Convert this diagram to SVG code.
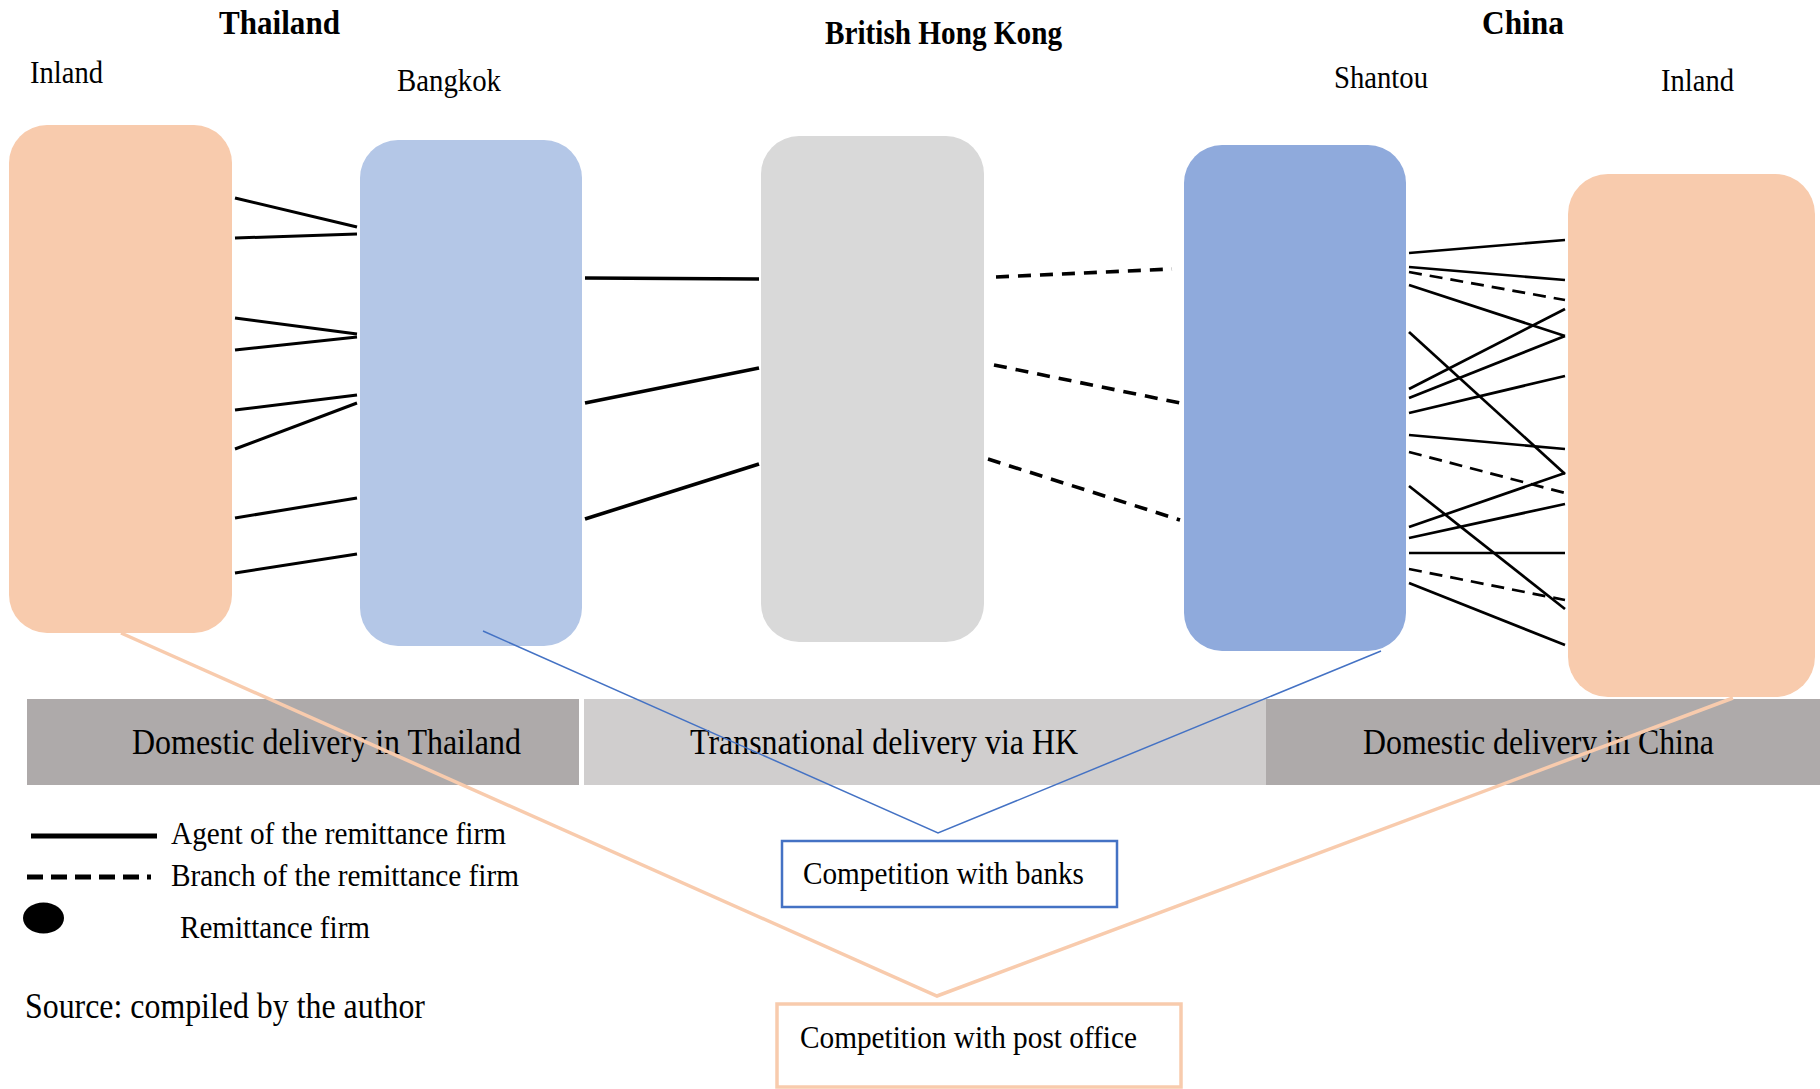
<svg xmlns="http://www.w3.org/2000/svg" width="1820" height="1089" viewBox="0 0 1820 1089">
  <style>
    .t { font-family: "Liberation Serif", "Times New Roman", serif; fill: #000; }
    .h { font-weight: bold; font-size: 34px; }
    .lbl { font-size: 32px; }
    .band-t { font-size: 35px; }
    .leg { font-size: 32px; }
    .note { font-size: 32.5px; }
    .agent { stroke: #000; stroke-width: 3; fill: none; }
    .agent-hk { stroke: #000; stroke-width: 3.6; fill: none; }
    .agent-cn { stroke: #000; stroke-width: 2.7; fill: none; }
    .branch-hk { stroke: #000; stroke-width: 3.6; stroke-dasharray: 13 9; fill: none; }
    .branch-cn { stroke: #000; stroke-width: 2.7; stroke-dasharray: 13 8; fill: none; }
    .call-bank { stroke: #4472C4; stroke-width: 1.5; fill: none; }
    .call-post { stroke: #F8CBAD; stroke-width: 3.5; fill: none; }
  </style>

  <rect width="1820" height="1089" fill="#ffffff"/>

  <!-- region headings and place labels -->
  <g id="headings">
    <text class="t h" x="219" y="34" textLength="121" lengthAdjust="spacingAndGlyphs">Thailand</text>
    <text class="t h" x="825" y="44" font-size="32" textLength="237" lengthAdjust="spacingAndGlyphs">British Hong Kong</text>
    <text class="t h" x="1482" y="34" textLength="82" lengthAdjust="spacingAndGlyphs">China</text>
    <text class="t lbl" x="30" y="83" textLength="73" lengthAdjust="spacingAndGlyphs">Inland</text>
    <text class="t lbl" x="397" y="91" textLength="104" lengthAdjust="spacingAndGlyphs">Bangkok</text>
    <text class="t lbl" x="1334" y="88" textLength="94" lengthAdjust="spacingAndGlyphs">Shantou</text>
    <text class="t lbl" x="1661" y="91" textLength="73" lengthAdjust="spacingAndGlyphs">Inland</text>
  </g>

  <!-- nodes -->
  <g id="thailand-inland">
    <rect x="9" y="125" width="223" height="508" rx="38" ry="38" fill="#F8CBAD"/>
  </g>
  <g id="bangkok">
    <rect x="360" y="140" width="222" height="506" rx="38" ry="38" fill="#B4C7E7"/>
  </g>
  <g id="hong-kong">
    <rect x="761" y="136" width="223" height="506" rx="38" ry="38" fill="#D9D9D9"/>
  </g>
  <g id="shantou">
    <rect x="1184" y="145" width="222" height="506" rx="38" ry="38" fill="#8FAADC"/>
  </g>
  <g id="china-inland">
    <rect x="1568" y="174" width="247" height="523" rx="40" ry="40" fill="#F8CBAD"/>
  </g>

  <!-- remittance links -->
  <g id="connectors">
    <!-- Thai inland to Bangkok: agents -->
    <line class="agent" x1="235" y1="198" x2="357" y2="227"/>
    <line class="agent" x1="235" y1="238" x2="357" y2="234"/>
    <line class="agent" x1="235" y1="318" x2="357" y2="334"/>
    <line class="agent" x1="235" y1="350" x2="357" y2="337"/>
    <line class="agent" x1="235" y1="410" x2="357" y2="395"/>
    <line class="agent" x1="235" y1="449" x2="357" y2="403"/>
    <line class="agent" x1="235" y1="518" x2="357" y2="498"/>
    <line class="agent" x1="235" y1="573" x2="357" y2="554"/>

    <!-- Bangkok to Hong Kong: agents -->
    <line class="agent-hk" x1="585" y1="278" x2="759" y2="279"/>
    <line class="agent-hk" x1="585" y1="403" x2="759" y2="368"/>
    <line class="agent-hk" x1="585" y1="519" x2="759" y2="464"/>

    <!-- Hong Kong to Shantou: branches -->
    <line class="branch-hk" x1="996" y1="277" x2="1172" y2="269"/>
    <line class="branch-hk" x1="994" y1="365" x2="1180" y2="403"/>
    <line class="branch-hk" x1="988" y1="459" x2="1180" y2="520"/>

    <!-- Shantou to Chinese inland -->
    <line class="agent-cn" x1="1409" y1="253" x2="1565" y2="240"/>
    <line class="agent-cn" x1="1409" y1="267" x2="1565" y2="280"/>
    <line class="branch-cn" x1="1409" y1="272" x2="1565" y2="300"/>
    <line class="agent-cn" x1="1409" y1="285" x2="1565" y2="336"/>
    <line class="agent-cn" x1="1409" y1="332" x2="1565" y2="474"/>
    <line class="agent-cn" x1="1409" y1="389" x2="1565" y2="309"/>
    <line class="agent-cn" x1="1409" y1="398" x2="1565" y2="336"/>
    <line class="agent-cn" x1="1409" y1="413" x2="1565" y2="376"/>
    <line class="agent-cn" x1="1409" y1="435" x2="1565" y2="449"/>
    <line class="branch-cn" x1="1409" y1="452" x2="1565" y2="493"/>
    <line class="agent-cn" x1="1409" y1="486" x2="1565" y2="609"/>
    <line class="agent-cn" x1="1409" y1="527" x2="1565" y2="473"/>
    <line class="agent-cn" x1="1409" y1="538" x2="1565" y2="504"/>
    <line class="agent-cn" x1="1409" y1="553" x2="1565" y2="553"/>
    <line class="branch-cn" x1="1409" y1="569" x2="1565" y2="600"/>
    <line class="agent-cn" x1="1409" y1="583" x2="1565" y2="645"/>
  </g>

  <!-- delivery stages -->
  <g id="stage-thailand">
    <rect x="27" y="699" width="552" height="86" fill="#AEAAAA"/>
    <text class="t band-t" x="132" y="754" textLength="389" lengthAdjust="spacingAndGlyphs">Domestic delivery in Thailand</text>
  </g>
  <g id="stage-hk">
    <rect x="584" y="699" width="682" height="86" fill="#D0CECE"/>
    <text class="t band-t" x="690" y="754" textLength="388" lengthAdjust="spacingAndGlyphs">Transnational delivery via HK</text>
  </g>
  <g id="stage-china">
    <rect x="1266" y="699" width="554" height="86" fill="#AEAAAA"/>
    <text class="t band-t" x="1363" y="754" textLength="351" lengthAdjust="spacingAndGlyphs">Domestic delivery in China</text>
  </g>

  <!-- competition callouts -->
  <g id="callout-lines">
    <polyline class="call-bank" points="483,631 938,833 1381,651"/>
    <polyline class="call-post" points="121,633 937,996 1733,698"/>
  </g>
  <g id="competition-banks">
    <rect x="782" y="841" width="335" height="66" fill="#ffffff" stroke="#4472C4" stroke-width="2.5"/>
    <text class="t note" x="803" y="884" textLength="281" lengthAdjust="spacingAndGlyphs">Competition with banks</text>
  </g>
  <g id="competition-post">
    <rect x="777" y="1004" width="404" height="83" fill="#ffffff" stroke="#F8CBAD" stroke-width="3.5"/>
    <text class="t note" x="800" y="1048" textLength="337" lengthAdjust="spacingAndGlyphs">Competition with post office</text>
  </g>

  <!-- legend -->
  <g id="legend">
    <line x1="31" y1="836" x2="157" y2="836" stroke="#000" stroke-width="5"/>
    <line x1="27" y1="877" x2="151" y2="877" stroke="#000" stroke-width="5" stroke-dasharray="16 8"/>
    <ellipse cx="43.5" cy="918" rx="20.5" ry="15.5" fill="#000"/>
    <text class="t leg" x="171" y="844" textLength="335" lengthAdjust="spacingAndGlyphs">Agent of the remittance firm</text>
    <text class="t leg" x="171" y="886" textLength="348" lengthAdjust="spacingAndGlyphs">Branch of the remittance firm</text>
    <text class="t leg" x="180" y="938" textLength="190" lengthAdjust="spacingAndGlyphs">Remittance firm</text>
  </g>

  <text class="t" x="25" y="1018" font-size="35" textLength="400" lengthAdjust="spacingAndGlyphs">Source: compiled by the author</text>
</svg>
